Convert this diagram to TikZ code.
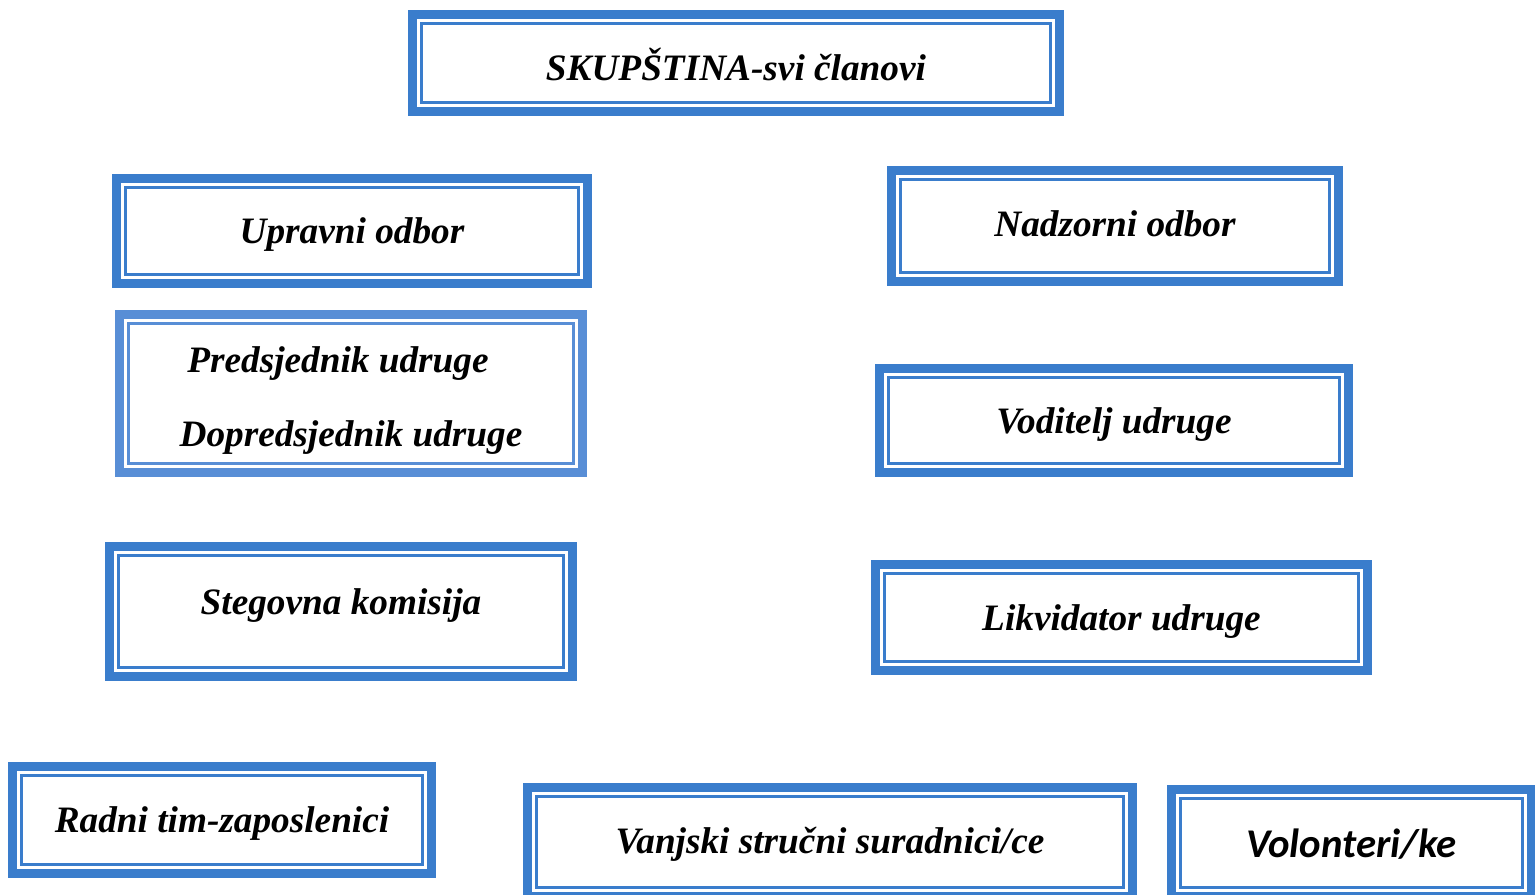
\documentclass[tikz,border=0pt]{standalone}
\usepackage{fontspec}
\setmainfont{Liberation Serif}
\newfontfamily\calibrifont{Carlito}
\definecolor{boxblue}{RGB}{58,125,204}
\definecolor{lightblue}{RGB}{88,142,214}

\begin{document}
\begin{tikzpicture}[x = 0.01cm, y = -0.01cm,
    orgbox/.style = {shape = rectangle, fill = white, draw = #1, line width = 0.03cm,
        preaction = {draw = #1, line width = 0.27cm},
        preaction = {draw = white, line width = 0.09cm},
        inner sep = 0pt, align = center, text height = 0.30cm, text depth = 0.04cm,
        font = \fontsize{10.6}{13}\selectfont\bfseries\itshape},
    orgbox/.default = boxblue]
    \useasboundingbox (0,0) rectangle (1535,895);
    \node (skup) [orgbox, minimum width = 6.29cm, minimum height = 0.79cm, text height = 0.40cm] at (736,63) {SKUPŠTINA-svi članovi};
    \node (upravni) [orgbox, minimum width = 4.53cm, minimum height = 0.87cm] at (352,231) {Upravni odbor};
    \node (nadzorni) [orgbox, minimum width = 4.29cm, minimum height = 0.93cm, text height = 0.25cm] at (1115,226) {Nadzorni odbor};
    \node (predsj) [orgbox = lightblue, minimum width = 4.45cm, minimum height = 1.40cm, text height = {}, text depth = {}] at (351,393.5)
        {\rule{0pt}{0.40cm}Predsjednik udruge\hspace*{0.26cm}\\[0.28cm]Dopredsjednik udruge};
    \node (voditelj) [orgbox, minimum width = 4.51cm, minimum height = 0.86cm] at (1114,420.5) {Voditelj udruge};
    \node (stegovna) [orgbox, minimum width = 4.45cm, minimum height = 1.12cm, text height = 0.36cm, text depth = 0.29cm] at (341,611.5) {Stegovna komisija};
    \node (likvid) [orgbox, minimum width = 4.74cm, minimum height = 0.88cm] at (1121.5,617.5) {Likvidator udruge};
    \node (radni) [orgbox, minimum width = 4.01cm, minimum height = 0.89cm] at (222,820) {Radni tim-zaposlenici};
    \node (vanjski) [orgbox, minimum width = 5.87cm, minimum height = 0.90cm, text height = 0.28cm] at (830,842) {Vanjski stručni suradnici/ce};
    \node (volont) [orgbox, minimum width = 3.41cm, minimum height = 0.88cm, text height = 0.33cm,
        font = \fontsize{11.6}{14}\selectfont\calibrifont\bfseries\itshape] at (1351.5,843) {Volonteri/ke};
\end{tikzpicture}
\end{document}
